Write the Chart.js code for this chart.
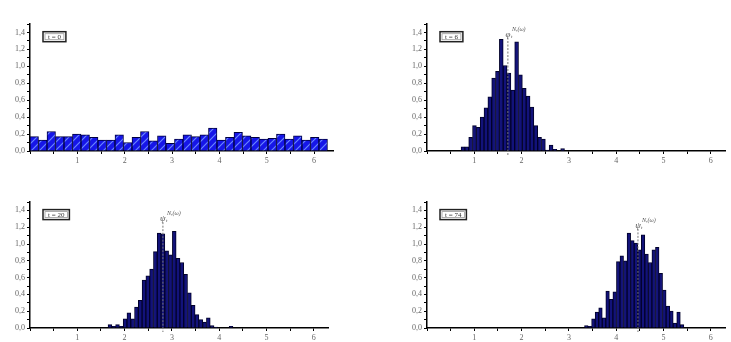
<!DOCTYPE html>
<html>
<head>
<meta charset="utf-8">
<script src="https://cdn.jsdelivr.net/npm/chart.js@4"></script>
<style>
  body { margin: 0; background: #fff; width: 731px; height: 342px; overflow: hidden; position: relative; }
  canvas { position: absolute; }
</style>
</head>
<body>
<canvas id="p0"></canvas>
<canvas id="p1"></canvas>
<canvas id="p2"></canvas>
<canvas id="p3"></canvas>
<script>
// panel captions
const panelLabels = ['t = 0', 't = 6', 't = 20', 't = 74'];

// histogram bins: left edge of first bin, bin width, heights (density)
const binStart0 = 0;
const binWidth0 = 2 * Math.PI / 35;
const values0 = [0.17, 0.13, 0.23, 0.17, 0.17, 0.20, 0.19, 0.16, 0.13, 0.13, 0.19, 0.10, 0.16, 0.23, 0.12,
  0.18, 0.09, 0.14, 0.19, 0.17, 0.19, 0.27, 0.13, 0.16, 0.22, 0.18, 0.16, 0.14, 0.15, 0.20, 0.14, 0.18,
  0.13, 0.16, 0.14];

const binStart6 = 0.72;
const binWidth6 = 0.081;
const values6 = [0.05, 0.05, 0.16, 0.30, 0.28, 0.40, 0.51, 0.64, 0.86, 0.94, 1.32, 1.01, 0.92, 0.72, 1.29,
  0.90, 0.74, 0.65, 0.52, 0.30, 0.16, 0.14, 0.01, 0.07, 0.02, 0, 0.03];

const binStart20 = 1.65;
const binWidth20 = 0.08;
const values20 = [0.04, 0.02, 0.04, 0.02, 0.11, 0.18, 0.11, 0.25, 0.33, 0.57, 0.62, 0.70, 0.91, 1.13, 1.12,
  0.92, 0.87, 1.15, 0.83, 0.78, 0.64, 0.42, 0.27, 0.16, 0.10, 0.07, 0.12, 0.03, 0.01, 0, 0, 0, 0.02];

const binStart74 = 3.33;
const binWidth74 = 0.075;
const values74 = [0.03, 0.02, 0.11, 0.19, 0.24, 0.12, 0.44, 0.34, 0.43, 0.79, 0.86, 0.80, 1.13, 1.04, 1.01,
  0.93, 1.11, 0.88, 0.78, 0.93, 0.96, 0.65, 0.45, 0.26, 0.20, 0.06, 0.19, 0.04];

// dashed marker (position of the empirical estimate) per panel
const markX = [null, 1.71, 2.81, 4.46];
const markTop = [null, 1.34, 1.26, 1.18];
const markSymbol = [null, 'φ', 'ψ', 'ψ'];

const tickFont = { family: 'Liberation Serif', size: 8 };

function hatchPattern() {
  const p = document.createElement('canvas');
  p.width = 8; p.height = 8;
  const g = p.getContext('2d');
  g.fillStyle = '#1616e8';
  g.fillRect(0, 0, 8, 8);
  g.strokeStyle = '#6a86ff';
  g.lineWidth = 1.2;
  g.beginPath();
  g.moveTo(0, 8); g.lineTo(8, 0);
  g.moveTo(-2, 2); g.lineTo(2, -2);
  g.moveTo(6, 10); g.lineTo(10, 6);
  g.stroke();
  return g.createPattern(p, 'repeat');
}

const decor = {
  id: 'decor',
  afterDraw(chart, args, opts) {
    const { ctx, chartArea: a, scales: { x, y } } = chart;
    ctx.save();
    // caption box
    ctx.font = '7px "Liberation Serif"';
    const tw = ctx.measureText(opts.label).width;
    const bx = a.left + 13, bh = 10, bw = tw + 10;
    const by = y.getPixelForValue(1.35) - bh / 2;
    ctx.fillStyle = '#fff';
    ctx.fillRect(bx, by, bw, bh);
    ctx.strokeStyle = '#222';
    ctx.lineWidth = 1.5;
    ctx.strokeRect(bx, by, bw, bh);
    ctx.strokeStyle = '#999';
    ctx.lineWidth = 0.8;
    ctx.strokeRect(bx + 2, by + 2, bw - 4, bh - 4);
    ctx.fillStyle = '#333';
    ctx.textAlign = 'center';
    ctx.textBaseline = 'middle';
    ctx.fillText(opts.label, bx + bw / 2, by + bh / 2 + 0.5);

    // dashed marker with symbol
    if (opts.markX != null) {
      const px = x.getPixelForValue(opts.markX);
      const top = y.getPixelForValue(opts.markTop);
      ctx.strokeStyle = '#777';
      ctx.lineWidth = 1;
      ctx.setLineDash([2, 1.5]);
      ctx.beginPath();
      ctx.moveTo(px, top);
      ctx.lineTo(px, y.getPixelForValue(0) + 4);
      ctx.stroke();
      ctx.setLineDash([]);
      ctx.fillStyle = '#555';
      ctx.textAlign = 'center';
      ctx.textBaseline = 'alphabetic';
      ctx.font = 'italic 9px "Liberation Serif"';
      ctx.fillText(opts.symbol, px, top - 1);
      ctx.textAlign = 'left';
      ctx.font = 'italic 5px "Liberation Serif"';
      ctx.fillText('t', px + 3, top);
      ctx.font = 'italic 6px "Liberation Serif"';
      ctx.fillText('N,(ω)', px + 4, top - 7);
    }
    ctx.restore();
  }
};

function isWhole(v) {
  return Math.abs(v - Math.round(v)) < 1e-6;
}

function makePanel(id, area, xMax, start, width, values, fill, border, label, mi) {
  const padL = 30, padT = 10, padR = 8, padB = 22;
  const cv = document.getElementById(id);
  cv.width = area.right - area.left + padL + padR;
  cv.height = area.bottom - area.top + padT + padB;
  cv.style.left = (area.left - padL) + 'px';
  cv.style.top = (area.top - padT) + 'px';

  const pts = values.map((v, i) => ({ x: start + (i + 0.5) * width, y: v }));

  new Chart(cv, {
    type: 'bar',
    data: {
      datasets: [{
        data: pts,
        backgroundColor: fill,
        borderColor: border,
        borderWidth: 1,
        barPercentage: 1,
        categoryPercentage: 1
      }]
    },
    options: {
      responsive: false,
      animation: false,
      devicePixelRatio: 1,
      layout: { padding: { left: 0, top: padT, right: padR, bottom: 0 }, autoPadding: false },
      plugins: {
        legend: { display: false },
        tooltip: { enabled: false },
        decor: { label: label, markX: markX[mi], markTop: markTop[mi], symbol: markSymbol[mi] }
      },
      scales: {
        x: {
          type: 'linear', min: 0, max: xMax, offset: false,
          afterFit(s) { s.height = padB; },
          ticks: {
            stepSize: 0.5, includeBounds: false, autoSkip: false, maxRotation: 0, padding: 2,
            color: '#666', font: tickFont,
            callback: v => (v > 0.5 && isWhole(v)) ? String(Math.round(v)) : ''
          },
          grid: { drawOnChartArea: false, offset: false, tickLength: 3, tickColor: '#000', tickWidth: 1 },
          border: { color: '#000', width: 1.5 }
        },
        y: {
          min: 0, max: 1.5,
          afterFit(s) { s.width = padL; },
          ticks: {
            stepSize: 0.1, autoSkip: false, padding: 2, color: '#666', font: tickFont,
            callback: v => {
              const k = Math.round(v * 10);
              return (k % 2 === 0 && k <= 14) ? (k / 10).toFixed(1).replace('.', ',') : '';
            }
          },
          grid: { drawOnChartArea: false, tickLength: 3, tickColor: '#000', tickWidth: 1 },
          border: { color: '#000', width: 1.5 }
        }
      }
    },
    plugins: [decor]
  });
}

const navy = '#12127a';
const edge = '#02022a';

makePanel('p0', { left: 30, top: 24, right: 333, bottom: 151 }, 6.4, binStart0, binWidth0, values0,
  hatchPattern(), '#000040', panelLabels[0], 0);
makePanel('p1', { left: 427, top: 24, right: 725, bottom: 151 }, 6.3, binStart6, binWidth6, values6,
  navy, edge, panelLabels[1], 1);
makePanel('p2', { left: 30, top: 202, right: 328, bottom: 328 }, 6.3, binStart20, binWidth20, values20,
  navy, edge, panelLabels[2], 2);
makePanel('p3', { left: 427, top: 202, right: 725, bottom: 328 }, 6.3, binStart74, binWidth74, values74,
  navy, edge, panelLabels[3], 3);
</script>
</body>
</html>
